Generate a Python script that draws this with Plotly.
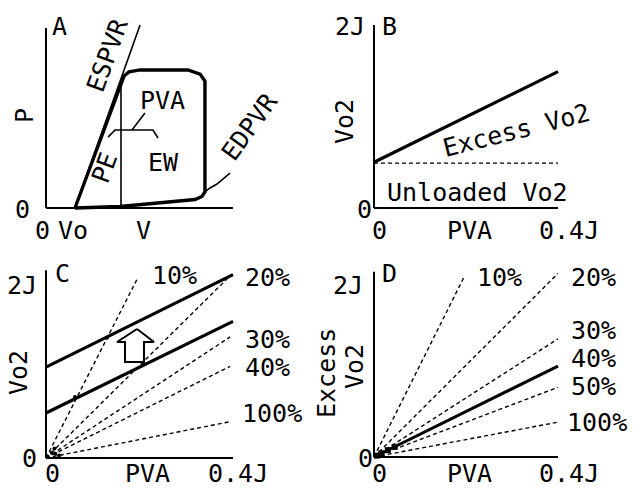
import plotly.graph_objects as go

W, H = 633, 488
FONT = "DejaVu Sans Mono"
FS = 25

# ---------------- data ----------------
# Panel A (arbitrary units: V 0..100, P 0..100)
a_axis_v = [0, 100]
a_axis_p = [0, 100]
espvr_v = [15.5, 50.3]
espvr_p = [0, 101.7]
loop_v = [15.5, 40.1, 41.7, 44.4, 50.3, 75.9, 82.4, 85.0, 85.0, 83.4, 79.7, 39.6, 15.5]
loop_p = [0, 70, 73.3, 75.6, 76.7, 76.7, 74.4, 70.6, 8.9, 6.4, 4.7, 0.8, 0]
es_split_v = [40.1, 40.1]
es_split_p = [0.8, 70]
edpvr_v = [85.0, 87.5, 91.4, 98.4]
edpvr_p = [8.9, 11.0, 13.3, 19.4]
bracket_v = [33.2, 36.9, 57.2, 59.9]
bracket_p = [39.4, 43.3, 43.3, 38.9]
stem_v = [46.0, 52.9]
stem_p = [43.3, 52.8]

# Panel B
b_pva = [0, 0.4]
b_vo2 = [0.50, 1.49]
b_unloaded = [0.49, 0.49]
b_axis_top = 2.0

# Panel C
c_pva = [0, 0.4]
c_upper = [1.05, 2.12]
c_lower = [0.52, 1.58]
c_labels = ["10%", "20%", "30%", "40%", "100%"]
c_end_x = [0.197, 0.389, 0.394, 0.394, 0.394]
c_end_y = [2.09, 2.08, 1.40, 1.06, 0.42]
c_pts_x = [0.062, 0.130, 0.208, 0.012, 0.020, 0.028, 0.018]
c_pts_y = [0.705, 1.390, 1.100, 0.060, 0.050, 0.030, 0.110]
arrow_x = [0.1947, 0.231, 0.2096, 0.2096, 0.169, 0.169, 0.1519, 0.1947]
arrow_y = [1.491, 1.341, 1.341, 1.110, 1.110, 1.341, 1.341, 1.491]
c_axis_top = 2.17

# Panel D
d_labels = ["10%", "20%", "30%", "40%", "50%", "100%"]
d_end_x = [0.196, 0.4, 0.4, 0.4, 0.4, 0.4]
d_end_y = [2.12, 2.16, 1.39, 1.07, 0.82, 0.41]
d_solid_label = "40%"
d_pts_x = [0.006, 0.016, 0.030, 0.045]
d_pts_y = [0.016, 0.043, 0.080, 0.120]
d_axis_top = 2.18

# ------------- layout helpers -------------
fig = go.Figure()
layout = dict(width=W, height=H, margin=dict(l=0, r=0, t=0, b=0),
              paper_bgcolor="white", plot_bgcolor="rgba(0,0,0,0)",
              showlegend=False)


def axes(i, px0, px1, dx0, dx1, py0, py1, dy0, dy1, domx, domy):
    sx = (px1 - px0) / (dx1 - dx0)
    sy = (py0 - py1) / (dy1 - dy0)
    xr = [dx0 + (domx[0] - px0) / sx, dx0 + (domx[1] - px0) / sx]
    yr = [dy0 + (py0 - domy[1]) / sy, dy0 + (py0 - domy[0]) / sy]
    sfx = "" if i == 1 else str(i)
    common = dict(showgrid=False, zeroline=False, showticklabels=False,
                  ticks="", showline=False, fixedrange=True)
    layout["xaxis" + sfx] = dict(domain=[domx[0] / W, domx[1] / W], range=xr,
                                 anchor="y" + sfx, **common)
    layout["yaxis" + sfx] = dict(domain=[1 - domy[1] / H, 1 - domy[0] / H], range=yr,
                                 anchor="x" + sfx, **common)
    return "x" + sfx, "y" + sfx


ax_a = axes(1, 46, 233, 0, 100, 208, 28, 0, 100, (40, 240), (15, 212))
ax_b = axes(2, 374, 558, 0, 0.4, 208, 25, 0, 2, (368, 565), (15, 212))
ax_c = axes(3, 46, 233, 0, 0.4, 458, 285, 0, 2, (40, 240), (262, 462))
ax_d = axes(4, 374, 558, 0, 0.4, 457, 287, 0, 2, (368, 565), (262, 462))


def line(ax, x, y, w=1.6, dash=None, fill=None):
    fig.add_trace(go.Scatter(x=x, y=y, xaxis=ax[0], yaxis=ax[1], mode="lines",
                             line=dict(color="black", width=w, dash=dash),
                             fill=fill, fillcolor="white" if fill else None,
                             hoverinfo="skip"))


def txt(x, y, s, angle=0, size=FS):
    layout.setdefault("annotations", []).append(dict(
        x=x / W, y=1 - y / H, xref="paper", yref="paper", text=s, showarrow=False,
        textangle=angle, xanchor="center", yanchor="middle",
        font=dict(family=FONT, size=size, color="black")))


# ---------------- Panel A ----------------
line(ax_a, [0, 0], a_axis_p, 2)
line(ax_a, a_axis_v, [0, 0], 2)
line(ax_a, espvr_v, espvr_p, 1.6)
line(ax_a, loop_v, loop_p, 3.4)
line(ax_a, es_split_v, es_split_p, 1.6)
line(ax_a, edpvr_v, edpvr_p, 1.6)
line(ax_a, bracket_v, bracket_p, 1.6)
line(ax_a, stem_v, stem_p, 1.6)
txt(60, 27, "A")
txt(25, 116, "P", -90)
txt(22, 209, "0")
txt(42, 230, "0")
txt(73, 230, "Vo")
txt(143, 230, "V")
txt(107, 55, "ESPVR", -70)
txt(105, 168, "PE", -70)
txt(162, 100, "PVA")
txt(164, 162, "EW")
txt(250, 127, "EDPVR", -54)

# ---------------- Panel B ----------------
line(ax_b, [0, 0], [0, b_axis_top], 2)
line(ax_b, b_pva, [0, 0], 2)
line(ax_b, b_pva, b_unloaded, 1.4, "4px,3px")
line(ax_b, b_pva, b_vo2, 3.2)
txt(350, 27, "2J")
txt(389, 26, "B")
txt(364, 209, "0")
txt(344, 122, "Vo2", -90)
txt(379, 230, "0")
txt(469, 230, "PVA")
txt(569, 230, "0.4J")
txt(516, 130, "Excess Vo2", -14)
txt(478, 192, "Unloaded Vo2")

# ---------------- Panel C ----------------
line(ax_c, [0, 0], [0, c_axis_top], 2)
line(ax_c, c_pva, [0, 0], 2)
for ex, ey in zip(c_end_x, c_end_y):
    line(ax_c, [0, ex], [0, ey], 1.4, "4px,3px")
line(ax_c, c_pva, c_upper, 3.2)
line(ax_c, c_pva, c_lower, 3.2)
line(ax_c, arrow_x, arrow_y, 2, fill="toself")
fig.add_trace(go.Scatter(x=c_pts_x, y=c_pts_y, xaxis=ax_c[0], yaxis=ax_c[1],
                         mode="markers", marker=dict(color="black", size=4),
                         hoverinfo="skip"))
txt(22, 285, "2J")
txt(62, 273, "C")
txt(30, 458, "0")
txt(18, 373, "Vo2", -90)
txt(52, 473, "0")
txt(147, 473, "PVA")
txt(238, 473, "0.4J")
c_lab_pos = [(174, 275), (267, 277), (267, 339), (267, 367), (272, 413)]
for lab, (lx, ly) in zip(c_labels, c_lab_pos):
    txt(lx, ly, lab)

# ---------------- Panel D ----------------
line(ax_d, [0, 0], [0, d_axis_top], 2)
line(ax_d, [0, 0.4], [0, 0], 2)
for lab, ex, ey in zip(d_labels, d_end_x, d_end_y):
    if lab == d_solid_label:
        line(ax_d, [0, ex], [0, ey], 3.0)
    else:
        line(ax_d, [0, ex], [0, ey], 1.4, "4px,3px")
fig.add_trace(go.Scatter(x=d_pts_x, y=d_pts_y, xaxis=ax_d[0], yaxis=ax_d[1],
                         mode="markers", marker=dict(color="black", size=6, symbol="square"),
                         hoverinfo="skip"))
txt(348, 285, "2J")
txt(389, 273, "D")
txt(365, 458, "0")
txt(326, 373, "Excess", -90)
txt(354, 367, "Vo2", -90)
txt(379, 473, "0")
txt(469, 473, "PVA")
txt(569, 473, "0.4J")
d_lab_pos = [(499, 277), (593, 277), (593, 330), (593, 358), (593, 386), (597, 422)]
for lab, (lx, ly) in zip(d_labels, d_lab_pos):
    txt(lx, ly, lab)

fig.update_layout(**layout)
fig.write_html("out.html")
